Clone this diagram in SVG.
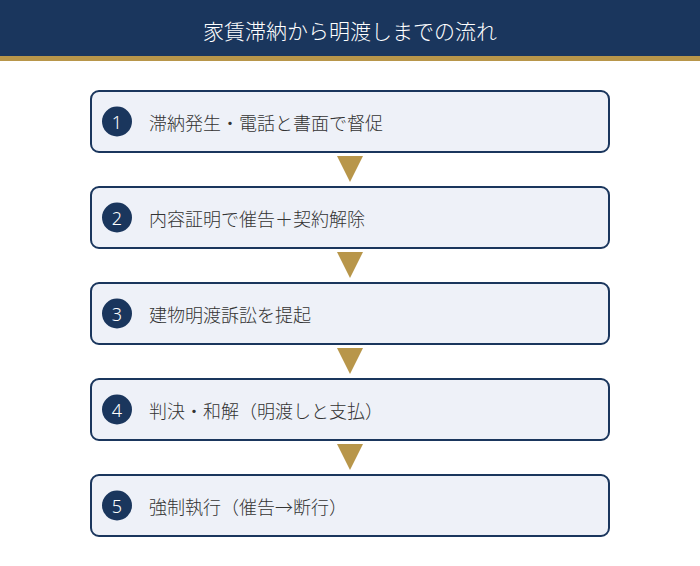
<svg xmlns="http://www.w3.org/2000/svg" width="700" height="566" viewBox="0 0 700 566">
<style>
.box{fill:#eef1f8;stroke:#1a365d;stroke-width:2}
.num{fill:#1a365d}
.nt{fill:#ffffff;font-family:"Noto Sans","Noto Sans CJK JP",sans-serif;font-size:18px;font-weight:300;text-anchor:middle;dominant-baseline:central}
.lbl{fill:#333333;font-family:"Noto Sans CJK JP",sans-serif;font-size:18px;font-weight:300;dominant-baseline:central}
.arr{fill:#b8964a}
</style>
<rect x="0" y="0" width="700" height="566" fill="#ffffff"/>
<g id="header">
<rect x="0" y="0" width="700" height="56" fill="#1a365d"/>
<rect x="0" y="56" width="700" height="5" fill="#b8964a"/>
<text x="350" y="30" fill="#ffffff" font-family="Noto Sans CJK JP, sans-serif" font-size="21" font-weight="300" text-anchor="middle" dominant-baseline="central">家賃滞納から明渡しまでの流れ</text>
</g>
<g id="connectors">
<polygon class="arr" points="337,156 363,156 350,182"/>
<polygon class="arr" points="337,252 363,252 350,278"/>
<polygon class="arr" points="337,348 363,348 350,374"/>
<polygon class="arr" points="337,444 363,444 350,470"/>
</g>
<g id="step1">
<rect class="box" x="91" y="91" width="518" height="61" rx="8"/>
<circle class="num" cx="117" cy="121.5" r="15"/>
<text class="nt" x="117" y="121.5">1</text>
<text class="lbl" x="149" y="121.5">滞納発生・電話と書面で督促</text>
</g>
<g id="step2">
<rect class="box" x="91" y="187" width="518" height="61" rx="8"/>
<circle class="num" cx="117" cy="217.5" r="15"/>
<text class="nt" x="117" y="217.5">2</text>
<text class="lbl" x="149" y="217.5">内容証明で催告＋契約解除</text>
</g>
<g id="step3">
<rect class="box" x="91" y="283" width="518" height="61" rx="8"/>
<circle class="num" cx="117" cy="313.5" r="15"/>
<text class="nt" x="117" y="313.5">3</text>
<text class="lbl" x="149" y="313.5">建物明渡訴訟を提起</text>
</g>
<g id="step4">
<rect class="box" x="91" y="379" width="518" height="61" rx="8"/>
<circle class="num" cx="117" cy="409.5" r="15"/>
<text class="nt" x="117" y="409.5">4</text>
<text class="lbl" x="149" y="409.5">判決・和解（明渡しと支払）</text>
</g>
<g id="step5">
<rect class="box" x="91" y="475" width="518" height="61" rx="8"/>
<circle class="num" cx="117" cy="505.5" r="15"/>
<text class="nt" x="117" y="505.5">5</text>
<text class="lbl" x="149" y="505.5">強制執行（催告→断行）</text>
</g>
</svg>
